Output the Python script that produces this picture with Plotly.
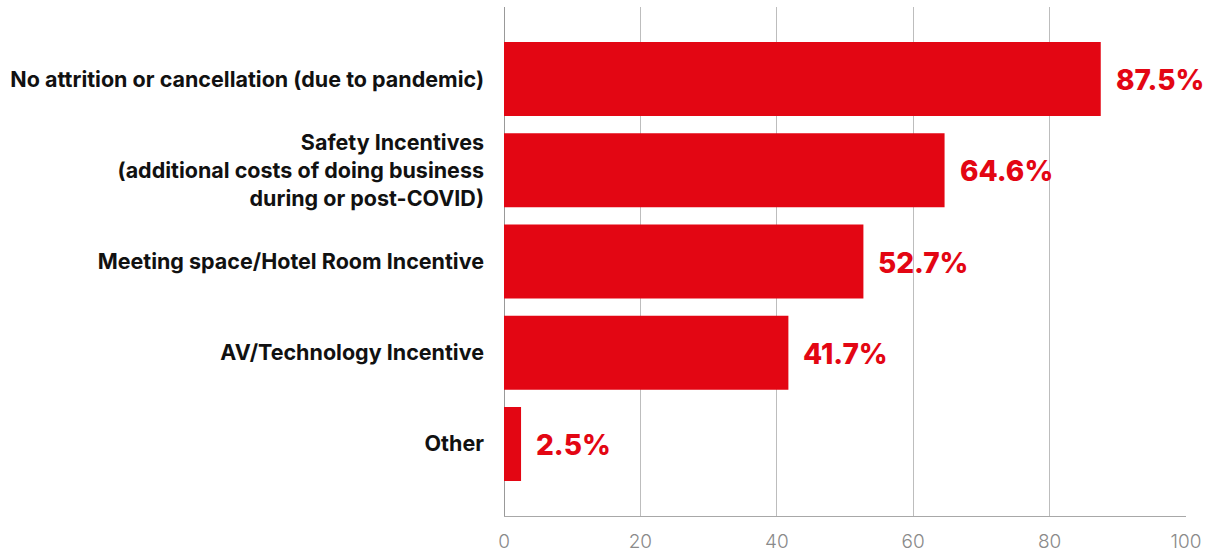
import plotly.graph_objects as go

categories = [
    "Other",
    "AV/Technology Incentive",
    "Meeting space/Hotel Room Incentive",
    "Safety Incentives<br>(additional costs of doing business<br>during or post-COVID)",
    "No attrition or cancellation (due to pandemic)",
]
values = [2.5, 41.7, 52.7, 64.6, 87.5]
value_labels = ["2.5%", "41.7%", "52.7%", "64.6%", "87.5%"]
x_ticks = [0, 20, 40, 60, 80, 100]

RED = "#e30613"

fig = go.Figure(go.Bar(
    x=values, y=categories, orientation="h",
    marker=dict(color=RED, line=dict(width=0)),
    width=0.81, hoverinfo="skip",
))

for v, c, t in zip(values, categories, value_labels):
    fig.add_annotation(
        x=v, y=c, text=t, showarrow=False, xanchor="left", yanchor="middle",
        xshift=13, yshift=-1,
        font=dict(family="Inter", size=28, color=RED, weight=800),
    )

fig.update_layout(
    width=1208, height=552,
    margin=dict(l=504, r=22, t=7, b=36),
    paper_bgcolor="white", plot_bgcolor="white",
    showlegend=False,
    xaxis=dict(
        range=[0, 100], tickvals=x_ticks, showgrid=True,
        gridcolor="#bdbdbd", gridwidth=1,
        zeroline=True, zerolinecolor="#999999", zerolinewidth=1,
        showline=True, linecolor="#a8a8a8", linewidth=1,
        ticks="", ticklabelstandoff=8, automargin=False,
        tickfont=dict(family="Inter", size=19, color="#8a8a8a", weight=300),
        fixedrange=True,
    ),
    yaxis=dict(
        categoryorder="array", categoryarray=categories,
        range=[-0.79, 4.79], showgrid=False, zeroline=False,
        ticks="", ticklabelstandoff=19, automargin=False,
        tickfont=dict(family="Inter", size=21.5, color="#111111", weight=700),
        fixedrange=True,
    ),
)

fig.write_html(
    "out.html",
    config={"displayModeBar": False},
    post_script="document.body.style.margin='0';document.body.style.overflow='hidden';",
)
